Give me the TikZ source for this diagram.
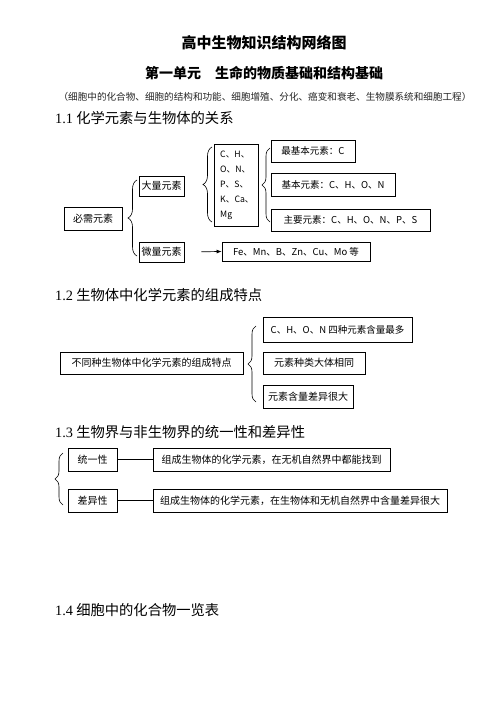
\documentclass[tikz,border=0pt]{standalone}
\usepackage{fontspec}
\setmainfont{Noto Sans CJK SC}
\newfontfamily\serifnum{Liberation Serif}
\usetikzlibrary{decorations.pathreplacing,arrows.meta}
\tikzset{
  bx/.style={draw, line width=0.7pt, inner sep=0pt, font=\fontsize{10}{12}\selectfont},
  sm/.style={font=\fontsize{9.5}{11}\selectfont},
  brc/.style={decorate, decoration={brace, amplitude=#1}, line width=0.6pt},
  brc/.default=8pt,
  hd/.style={anchor=west, inner sep=0pt, font=\fontsize{14.3}{16}\selectfont},
  conn/.style={line width=0.7pt}
}
\newcommand{\boxat}[7][]{% opts, name, x1,y1,x2,y2, text
  \node[bx, #1, minimum width={#5-#3}, minimum height={#6-#4}] (#2) at ({(#3+#5)/2},{(#4+#6)/2}) {#7};}
\begin{document}
\begin{tikzpicture}[x=1pt,y=-1pt]
\useasboundingbox[fill=white] (0,0) rectangle (500,706);
% titles
\node[font=\fontsize{15}{18}\selectfont\bfseries] (title) at (264,43) {高中生物知识结构网络图};
\node[font=\fontsize{14}{17}\selectfont\bfseries] (sub) at (264,73) {第一单元\hspace{1em}生命的物质基础和结构基础};
\node[font=\fontsize{9.6}{11}\selectfont, text=black!85] (paren) at (265,97) {（细胞中的化合物、细胞的结构和功能、细胞增殖、分化、癌变和衰老、生物膜系统和细胞工程）};
% 1.1
\node[hd] (h1) at (55,118) {{\serifnum 1.1} 化学元素与生物体的关系};
\boxat{bx1}{64}{207}{122}{230}{必需元素}
\boxat{dl}{139}{176}{184}{196}{大量元素}
\boxat{wl}{139}{242}{184}{262}{微量元素}
\node[draw, line width=0.7pt, minimum width=44pt, minimum height=82pt, inner sep=0pt] (chon) at (236,185) {};
\node[anchor=west, inner sep=0pt, align=left, font=\fontsize{8.7}{15}\selectfont] (chont) at (220,185.5) {C、H、\\O、N、\\P、S、\\K、Ca、\\Mg};
\boxat[sm]{fe}{222}{242}{370}{261}{Fe、Mn、B、Zn、Cu、Mo 等}
\boxat[sm]{zjb}{271}{140}{355}{162}{最基本元素：C}
\boxat[sm]{jb}{271}{173}{395}{196}{基本元素：C、H、O、N}
\boxat[sm]{zy}{271}{209}{430}{231}{主要元素：C、H、O、N、P、S}
\draw[brc=9pt] (137,256) -- (137,180);
\draw[brc=9pt] (212,222) -- (212,147);
\draw[brc=8pt] (270,222) -- (270,148);
\draw[conn, -{Latex[length=5pt,width=4pt]}, shorten <=17pt] (wl.east) -- (fe.west);
% 1.2
\node[hd] (h2) at (55,295) {{\serifnum 1.2} 生物体中化学元素的组成特点};
\boxat{bt}{60}{352}{243}{374}{不同种生物体中化学元素的组成特点}
\boxat[sm]{r1}{263}{317}{412}{342}{C、H、O、N 四种元素含量最多}
\boxat{r2}{263}{352}{365}{374}{元素种类大体相同}
\boxat{r3}{263}{385}{353}{408}{元素含量差异很大}
\draw[brc=8pt] (256,402) -- (256,326);
% 1.3
\node[hd] (h3) at (55,432) {{\serifnum 1.3} 生物界与非生物界的统一性和差异性};
\boxat{ty}{68}{448}{117}{471}{统一性}
\boxat{cy}{68}{489}{117}{512}{差异性}
\boxat{l1}{153}{448}{390}{471}{组成生物体的化学元素，在无机自然界中都能找到}
\boxat{l2}{153}{489}{447}{512}{组成生物体的化学元素，在生物体和无机自然界中含量差异很大}
\draw[conn] (ty.east) -- (l1.west);
\draw[conn] (cy.east) -- (l2.west);
\draw[brc=8pt] (63,505) -- (63,453);
% 1.4
\node[hd] (h4) at (55,610) {{\serifnum 1.4} 细胞中的化合物一览表};
\end{tikzpicture}
\end{document}
